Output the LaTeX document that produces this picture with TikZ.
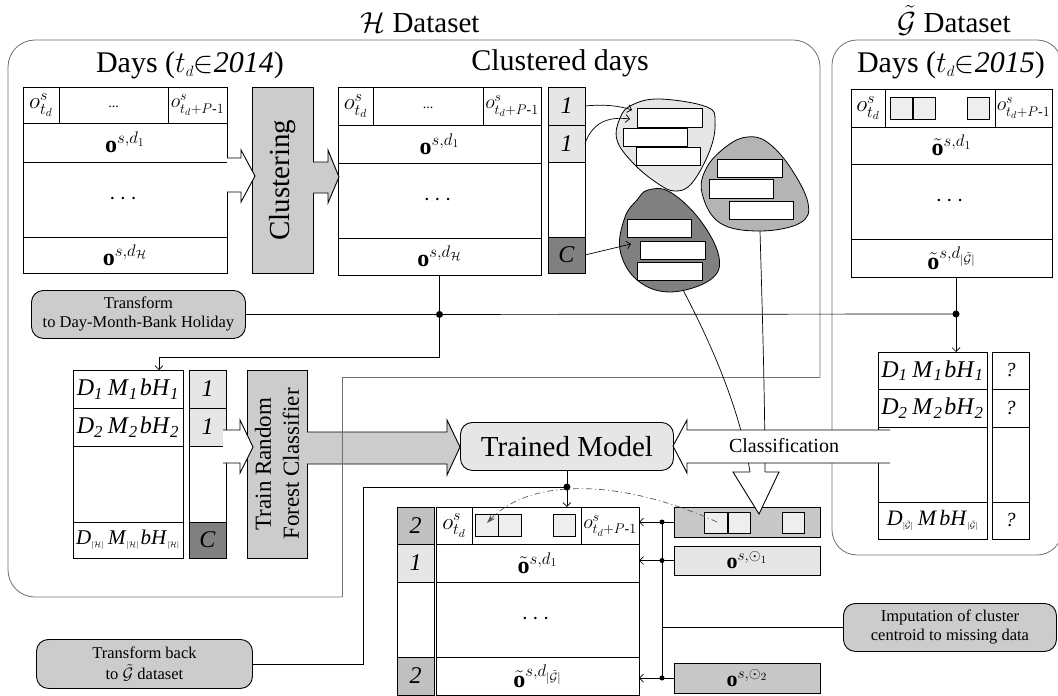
\RequirePackage{fix-cm}
\documentclass[tikz,border=0pt]{standalone}
\usepackage{amsmath}
\usepackage{fontspec}
\setmainfont{Liberation Serif}
\usetikzlibrary{arrows.meta}
\definecolor{lg}{HTML}{E6E6E6}
\definecolor{sq}{HTML}{EEEEEE}
\definecolor{mg}{HTML}{CCCCCC}
\definecolor{barg}{HTML}{C8C8C8}
\definecolor{cg}{HTML}{C0C0C0}
\definecolor{bg}{HTML}{B4B4B4}
\definecolor{dg}{HTML}{808080}
\definecolor{og}{HTML}{707070}
\newcommand\fs[1]{\fontsize{#1}{#1}\selectfont}
\newcommand\ohd{{\fs{23}$o^{s}_{t_{d}}$}}
\newcommand\ohp{{\fs{20}$o^{s}_{t_{d}+P\text{-}1}$}}
\newcommand\dmb[3]{\textit{D}\textsubscript{#1}\hspace{0.2em}\textit{M}\textsubscript{#2}\hspace{0.08em}\textit{bH}\textsubscript{#3}}
\newcommand\hsub{{\fs{8}$|\mathcal{H}|$}}
\newcommand\gsub{{\fs{8}$|\tilde{\mathcal{G}}|$}}
\newcommand\cellbox[7]{\node[cellst,fill=#6,minimum width=#4pt,minimum height=#5pt] (#1) at (#2,#3) {\makebox[0pt]{#7}};}
\begin{document}
\begin{tikzpicture}[x=1pt,y=-1pt,
  cellst/.style={draw,line width=0.9pt,inner sep=0pt,outer sep=0pt,anchor=north west,font=\fs{24}},
  rbox/.style={draw,line width=0.9pt,rounded corners=12pt,anchor=north west,inner sep=0pt,align=center},
  conn/.style={line width=0.7pt},
  arr/.style={conn,-{Straight Barb[length=4pt,width=8pt]}},
  hol/.style={line width=0.9pt}]
\useasboundingbox (0,0) rectangle (1058,696);

% ---------- region outlines
\draw[og,line width=0.8pt,rounded corners=27pt] (342,597) -- (8,597) -- (8,40) -- (820,40) -- (820,377);
\draw[og,line width=0.8pt] (820,377) -- (342,377) -- (342,597);
\draw[og,line width=0.8pt,rounded corners=25pt] (832,40) rectangle (1062,555);

% ---------- titles
\node[font=\fs{29},anchor=base] (htitle) at (420,32) {$\mathcal{H}$ Dataset};
\node[font=\fs{29},anchor=base] (gtitle) at (954,32) {$\tilde{\mathcal{G}}$ Dataset};
\node[font=\fs{30},anchor=base] (d14) at (190,72) {Days ($t_{\scriptscriptstyle d}{\in}$\textit{2014})};
\node[font=\fs{30},anchor=base] (cdays) at (560,70) {Clustered days};
\node[font=\fs{30},anchor=base] (d15) at (951,72) {Days ($t_{\scriptscriptstyle d}{\in}$\textit{2015})};

% ---------- table 1 (days 2014)
\cellbox{ta}{23}{87}{36}{36}{white}{\ohd}
\cellbox{tb}{59}{87}{109}{36}{white}{\raisebox{-6pt}{\fs{14}...}}
\cellbox{tc}{168}{87}{59}{36}{white}{\ohp}
\cellbox{tr1}{23}{123}{204}{39}{white}{$\mathbf{o}^{s,d_1}$}
\cellbox{tr2}{23}{162}{204}{75}{white}{$\cdots$}
\cellbox{tr3}{23}{237}{204}{36}{white}{$\mathbf{o}^{s,d_{\mathcal{H}}}$}

% clustering box
\node[cellst,fill=mg,minimum width=61pt,minimum height=186pt] (clu) at (252,87) {};
\node[rotate=90,font=\fs{29}] (clut) at (clu.center) {Clustering};

% hollow arrow table1 -> clustering
\fill[white] (227,158) -- (241,158) -- (241,150) -- (255,176) -- (241,202) -- (241,192) -- (227,192) -- cycle;
\draw[hol] (227,158) -- (241,158) -- (241,150) -- (255,176) -- (241,202) -- (241,192) -- (227,192);

% ---------- table 2 (clustered days)
\cellbox{sa}{338}{87}{35}{38}{white}{\ohd}
\cellbox{sb}{373}{87}{110}{38}{white}{\raisebox{-6pt}{\fs{14}...}}
\cellbox{sc}{483}{87}{58}{38}{white}{\ohp}
\cellbox{sr1}{338}{125}{203}{38}{white}{$\mathbf{o}^{s,d_1}$}
\cellbox{sr2}{338}{163}{203}{75}{white}{$\cdots$}
\cellbox{sr3}{338}{238}{203}{37}{white}{$\mathbf{o}^{s,d_{\mathcal{H}}}$}
\cellbox{ca}{548}{87}{37}{38}{lg}{\textit{1}}
\cellbox{cb}{548}{125}{37}{37}{lg}{\textit{1}}
\cellbox{cc}{548}{162}{37}{75}{white}{}
\cellbox{cd}{548}{237}{37}{36}{dg}{\textit{C}}

% gray arrow clustering -> table 2
\fill[mg] (313,162) -- (328,162) -- (328,150) -- (339,177) -- (328,203) -- (328,193) -- (313,193) -- cycle;
\draw[hol] (313,162) -- (328,162) -- (328,150) -- (339,177) -- (328,203) -- (328,193) -- (313,193);

% ---------- clusters (blobs)
\filldraw[fill=lg,line width=0.8pt] plot[smooth cycle,tension=0.65] coordinates {(632,105) (660,99) (707,107) (715,122) (710,150) (692,183) (675,191) (657,183) (633,163) (617,140) (620,118)};
\filldraw[fill=bg,line width=0.8pt] plot[smooth cycle,tension=0.65] coordinates {(727,146) (747,137) (767,142) (790,167) (808,203) (800,223) (760,231) (720,223) (702,193) (707,167)};
\filldraw[fill=dg,line width=0.8pt] plot[smooth cycle,tension=0.65] coordinates {(637,200) (648,190) (670,192) (700,220) (719,257) (710,280) (670,292) (637,280) (620,250) (625,217)};
\foreach \a/\b/\c/\d in {637/108/702/127,623/128/687/146,636/147/700/165,717/159/782/177,709/179/773/198,729/201/793/219,627/219/691/237,640/241/705/259,637/262/702/280}
  \filldraw[fill=white,line width=0.8pt] (\a,\b) rectangle (\c,\d);

\coordinate (bl1) at (632,110);
\coordinate (bl2) at (630,119);
\coordinate (bl3) at (631,244);
\draw[arr] (ca.east) .. controls (605,104) and (620,106) .. (bl1);
\draw[arr] (cb.east) .. controls (592,124) and (606,116) .. (bl2);
\draw[arr] (cd.east) -- (bl3);

% ---------- transform box and links
\node[rbox,fill=mg,minimum width=214pt,minimum height=48pt,font=\fontsize{16.5}{19}\selectfont] (trans) at (31,290) {Transform\\to Day-Month-Bank Holiday};
\coordinate (dA) at (sr3.south |- trans.east);
\coordinate (dB) at (956,314);
\coordinate (tdbend) at (159,357);
\coordinate (tdin) at (159,370);
\draw[conn] (trans.east) -- (dA) -- (dB);
\draw[conn] (sr3.south) -- (dA);
\draw[arr] (dA) |- (tdbend) -- (tdin);

% ---------- G table (days 2015)
\cellbox{ga}{851}{89}{34}{38}{white}{\ohd}
\cellbox{gb}{885}{89}{110}{38}{white}{}
\cellbox{gc}{995}{89}{57}{38}{white}{\ohp}
\cellbox{gs1}{890}{97}{22}{22}{sq}{}
\cellbox{gs2}{913}{97}{22}{22}{sq}{}
\cellbox{gs3}{967}{97}{22}{22}{sq}{}
\cellbox{gr1}{851}{127}{201}{37}{white}{$\tilde{\mathbf{o}}^{s,d_1}$}
\cellbox{gr2}{851}{164}{201}{75}{white}{$\cdots$}
\cellbox{gr3}{851}{239}{201}{38}{white}{$\tilde{\mathbf{o}}^{s,d_{|\tilde{\mathcal{G}}|}}$}

% G D-table
\cellbox{gd1}{878}{352}{109}{37}{white}{\dmb{\textit{1}}{\textit{1}}{\textit{1}}}
\cellbox{gd2}{878}{389}{109}{38}{white}{\dmb{\textit{2}}{\textit{2}}{\textit{2}}}
\cellbox{gd3}{878}{427}{109}{75}{white}{}
\cellbox{gd4}{878}{502}{109}{37}{white}{\fs{22}\dmb{\gsub}{}{\gsub}}
\cellbox{gq1}{992}{352}{37}{37}{white}{\fs{20}\textit{?}}
\cellbox{gq2}{992}{389}{37}{38}{white}{\fs{20}\textit{?}}
\cellbox{gq3}{992}{427}{37}{75}{white}{}
\cellbox{gq4}{992}{502}{37}{37}{white}{\fs{20}\textit{?}}
\draw[conn] (dB |- gr3.south) -- (dB);
\draw[arr] (dB) -- (dB |- gd1.north);

% ---------- training table
\cellbox{hd1}{73}{370}{110}{38}{white}{\dmb{\textit{1}}{\textit{1}}{\textit{1}}}
\cellbox{hd2}{73}{408}{110}{38}{white}{\dmb{\textit{2}}{\textit{2}}{\textit{2}}}
\cellbox{hd3}{73}{446}{110}{76}{white}{}
\cellbox{hd4}{73}{522}{110}{36}{white}{\fs{21}\dmb{\hsub}{\hsub}{\hsub}}
\cellbox{hc1}{189}{370}{37}{38}{lg}{\textit{1}}
\cellbox{hc2}{189}{408}{37}{38}{lg}{\textit{1}}
\cellbox{hc3}{189}{446}{37}{76}{white}{}
\cellbox{hc4}{189}{522}{37}{36}{dg}{\textit{C}}

\node[cellst,fill=mg,minimum width=60pt,minimum height=188pt] (trf) at (247,370) {};
\node[rotate=90,align=center,font=\fontsize{23}{28}\selectfont] (trft) at (trf.center) {Train Random\\Forest Classifier};

% hollow arrow labels -> train
\fill[white] (223,430) -- (240,430) -- (240,420) -- (253,447) -- (240,473) -- (240,463) -- (223,463) -- cycle;
\draw[hol] (223,430) -- (240,430) -- (240,420) -- (253,447) -- (240,473) -- (240,463) -- (223,463);

% gray arrow train -> model
\fill[mg] (307,432) -- (447,432) -- (447,420) -- (460,447) -- (447,475) -- (447,464) -- (307,464) -- cycle;
\draw[hol] (307,432) -- (447,432) -- (447,420) -- (460,447) -- (447,475) -- (447,464) -- (307,464);
\draw[og,line width=0.8pt] (342,420) -- (342,480);

% trained model
\node[rbox,fill=lg,minimum width=213pt,minimum height=48pt,font=\fs{29}] (tm) at (460,422) {Trained Model};

% ---------- bottom table
\cellbox{bc1}{397}{507}{37}{37}{cg}{\textit{2}}
\cellbox{bc2}{397}{544}{37}{38}{lg}{\textit{1}}
\cellbox{bc3}{397}{582}{37}{75}{white}{}
\cellbox{bc4}{397}{657}{37}{38}{cg}{\textit{2}}
\cellbox{bha}{436}{507}{36}{37}{white}{\ohd}
\cellbox{bhb}{472}{507}{109}{37}{white}{}
\cellbox{bhc}{581}{507}{58}{37}{white}{\ohp}
\cellbox{bs1}{475}{514}{23}{22}{sq}{}
\cellbox{bs2}{498}{514}{23}{22}{sq}{}
\cellbox{bs3}{553}{514}{22}{22}{sq}{}
\cellbox{br1}{436}{544}{203}{38}{white}{$\tilde{\mathbf{o}}^{s,d_1}$}
\cellbox{br2}{436}{582}{203}{75}{white}{$\cdots$}
\cellbox{br3}{436}{657}{203}{38}{white}{$\tilde{\mathbf{o}}^{s,d_{|\tilde{\mathcal{G}}|}}$}

% ---------- centroid bars
\cellbox{bar1}{674}{507}{146}{30}{barg}{}
\cellbox{q1}{704}{512}{23}{21}{sq}{}
\cellbox{q2}{728}{512}{22}{21}{sq}{}
\cellbox{q3}{782}{512}{22}{21}{sq}{}
\cellbox{bar2}{674}{546}{146}{29}{lg}{\fs{22}$\mathbf{o}^{s,\odot_1}$}
\cellbox{bar3}{674}{663}{146}{30}{barg}{\fs{22}$\mathbf{o}^{s,\odot_2}$}

% ---------- blob tails, classification arrow, down head
\draw[conn] (683,290) .. controls (712,345) and (740,410) .. (750,472);
\draw[conn] (760,231) .. controls (762,300) and (765,400) .. (765,472);
\fill[white] (890,430) -- (687,430) -- (687,420) -- (673,446) -- (687,473) -- (687,463) -- (890,463) -- cycle;
\draw[hol] (890,430) -- (687,430) -- (687,420) -- (673,446) -- (687,473) -- (687,463) -- (890,463);
\node[font=\fs{20}] (cls) at (784,446) {Classification};
\filldraw[fill=white,hol] (750,472) -- (733,472) -- (759,514) -- (779,472) -- (765,472);

% ---------- model -> bottom table, transform back
\node[rbox,fill=mg,minimum width=216pt,minimum height=49pt,font=\fontsize{16.5}{21}\selectfont] (tback) at (36,639) {Transform back\\to $\tilde{\mathcal{G}}$ dataset};
\coordinate (dC) at (tm.south |- 0,487);
\coordinate (tbb) at (363,487);
\draw[conn] (tm.south) -- (dC);
\draw[arr] (dC) -- (dC |- bhb.north);
\draw[conn] (tback.east) -| (tbb) -- (dC);

% dash-dot imputation arrow
\draw[black!65,line width=0.7pt,dash pattern=on 6pt off 3pt on 1pt off 3pt,-{Stealth[length=9pt,width=6pt]}] (717,522) .. controls (620,478) and (530,478) .. (487,523);

% ---------- bus to bottom table
\node[rbox,fill=mg,minimum width=213pt,minimum height=48pt,font=\fontsize{16.5}{19}\selectfont] (imp) at (843,603) {Imputation of cluster\\centroid to missing data};
\coordinate (bT) at (662,522);
\coordinate (bB) at (662,678);
\draw[conn] (bT) -- (bB);
\draw[arr] (bar1.west) -- (bar1.west -| bhc.east);
\draw[arr] (bar2.west) -- (bar2.west -| br1.east);
\draw[arr] (bar3.west) -- (bar3.west -| br3.east);
\draw[conn] (imp.west) -- (imp.west -| bT);

% dots
\foreach \p in {dA,dB,dC} \fill (\p) circle (3.5pt);
\fill (bar1.west -| bT) circle (2.5pt);
\fill (bar2.west -| bT) circle (2.5pt);
\fill (bar3.west -| bT) circle (2.5pt);
\end{tikzpicture}
\end{document}
